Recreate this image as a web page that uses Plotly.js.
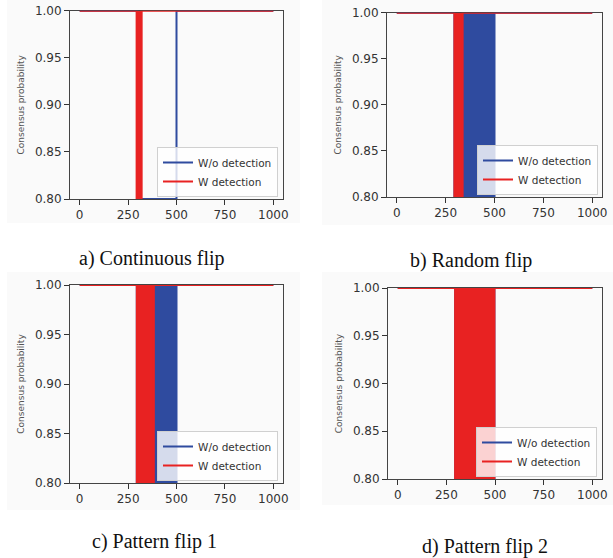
<!DOCTYPE html>
<html>
<head>
<meta charset="utf-8">
<script src="https://cdn.plot.ly/plotly-3.0.1.min.js"></script>
<style>html,body{margin:0;padding:0;background:#fff;}#chart{width:613px;height:558px;}</style>
</head>
<body>
<div id="chart"></div>
<script>
// ---- data ----
var panelCaptions = ["a) Continuous flip", "b) Random flip", "c) Pattern flip 1", "d) Pattern flip 2"];
var seriesNames = ["W/o detection", "W detection"];
var xTicks = [0, 250, 500, 750, 1000];
var yTicks = [0.80, 0.85, 0.90, 0.95, 1.00];
var yLow = 0.8;   // consensus drop level (clipped at axis bottom)

// a) continuous flip: W/o detection stays down for the whole attack
var contWoX = [0, 300, 300, 500, 500, 1000];
var contWoY = [1, 1, 0.8, 0.8, 1, 1];
// flipping intervals [start, end] (rapid oscillation between low and 1)
var contWBand      = [294, 320];
var randomWoBand   = [295, 500];
var randomWBand    = [295, 337];
var pattern1WoBand = [295, 500];
var pattern1WBand  = [295, 383];
var pattern2WoBand = [295, 497];
var pattern2WBand  = [295, 497];

var blue = "#2f4b9f";
var red = "#e82222";

var traces = [];
function stepTrace(x, y, name, color, idx, showleg) {
  return {x: x, y: y, type: "scatter", mode: "lines", name: name,
    line: {color: color, width: 2, shape: "linear"},
    xaxis: "x" + (idx === 1 ? "" : idx), yaxis: "y" + (idx === 1 ? "" : idx),
    legend: "legend" + (idx === 1 ? "" : idx), showlegend: showleg, hoverinfo: "skip"};
}
function bandTraces(band, name, color, idx) {
  var a = band[0], b = band[1];
  var line = stepTrace([0, a, a, b, b, 1000], [1, 1, yLow, yLow, 1, 1], name, color, idx, true);
  var fill = {x: [a, a, b, b], y: [yLow - 0.05, 1, 1, yLow - 0.05], type: "scatter", mode: "lines",
    fill: "toself", fillcolor: color, line: {color: color, width: 0},
    xaxis: line.xaxis, yaxis: line.yaxis, showlegend: false, hoverinfo: "skip"};
  return [fill, line];
}

traces.push(stepTrace(contWoX, contWoY, seriesNames[0], blue, 1, true));
traces = traces.concat(bandTraces(contWBand, seriesNames[1], red, 1));
[[randomWoBand, randomWBand], [pattern1WoBand, pattern1WBand], [pattern2WoBand, pattern2WBand]].forEach(function (p, i) {
  var idx = i + 2;
  traces = traces.concat(bandTraces(p[0], seriesNames[0], blue, idx));
  traces = traces.concat(bandTraces(p[1], seriesNames[1], red, idx));
});

// ---- layout ----
var W = 613, H = 558;
var boxes = [ // [left, right, top, bottom] in px
  [70, 283, 10.7, 199],
  [387, 602, 12.7, 197],
  [70, 283, 285, 483],
  [388, 602, 288, 479]
];
var legendPos = [ // [right, bottom] px
  [278, 197], [598, 195], [278, 481], [597, 477]
];
var captionPos = [[152, 258], [471, 260], [154, 541], [485, 546]];

var layout = {
  width: W, height: H, margin: {l: 0, r: 0, t: 0, b: 0},
  paper_bgcolor: "#ffffff", plot_bgcolor: "#ffffff",
  showlegend: true, annotations: [], shapes: []
};
var tickFont = {family: "DejaVu Sans", size: 12, color: "#333"};
boxes.forEach(function (b, i) {
  var s = i === 0 ? "" : String(i + 1);
  layout["xaxis" + s] = {
    domain: [b[0] / W, b[1] / W], range: [-50, 1050], anchor: "y" + s, layer: "below traces",
    tickvals: xTicks, ticktext: xTicks.map(String), ticks: "outside", ticklen: 5, tickwidth: 1, tickcolor: "#333",
    showline: true, linecolor: "#444", linewidth: 1, mirror: true, showgrid: false, zeroline: false,
    tickfont: tickFont, fixedrange: true
  };
  layout["yaxis" + s] = {
    domain: [1 - b[3] / H, 1 - b[2] / H], range: [0.8, 1.0], anchor: "x" + s, layer: "below traces",
    tickvals: yTicks, ticktext: yTicks.map(function (v) { return v.toFixed(2); }),
    ticks: "outside", ticklen: 5, tickwidth: 1, tickcolor: "#333",
    showline: true, linecolor: "#444", linewidth: 1, mirror: true, showgrid: false, zeroline: false,
    tickfont: tickFont, fixedrange: true,
    title: {text: "Consensus probability", font: {family: "DejaVu Sans", size: 9, color: "#555"}, standoff: 8}
  };
  layout["legend" + s] = {
    x: legendPos[i][0] / W, y: 1 - legendPos[i][1] / H, xanchor: "right", yanchor: "bottom",
    xref: "paper", yref: "paper",
    bgcolor: "rgba(255,255,255,0.8)", bordercolor: "#d0d0d0", borderwidth: 1,
    font: {family: "DejaVu Sans", size: 10.5, color: "#333"}, itemwidth: 30,
    tracegroupgap: 0, itemclick: false
  };
  layout.annotations.push({
    text: panelCaptions[i], x: captionPos[i][0] / W, y: 1 - captionPos[i][1] / H,
    xref: "paper", yref: "paper", xanchor: "center", yanchor: "middle", showarrow: false,
    font: {family: "Liberation Serif", size: 20, color: "#111"}
  });
});
// light figure backgrounds
[[7, 300, 0, 223], [322, 613, 0, 225], [7, 300, 272, 510], [322, 613, 272, 505]].forEach(function (r) {
  layout.shapes.push({type: "rect", xref: "paper", yref: "paper", layer: "below",
    x0: r[0] / W, x1: r[1] / W, y0: 1 - r[3] / H, y1: 1 - r[2] / H,
    fillcolor: "#fafafa", line: {width: 0}});
});

Plotly.newPlot("chart", traces, layout, {displayModeBar: false, staticPlot: true});
</script>
</body>
</html>
